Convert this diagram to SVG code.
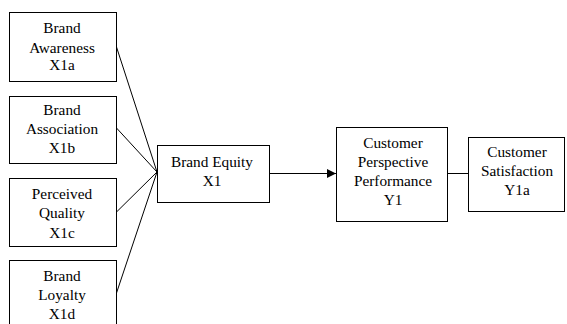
<svg xmlns="http://www.w3.org/2000/svg" width="567" height="324" viewBox="0 0 567 324">
  <style>
    .box { fill: #fff; stroke: #000; stroke-width: 1; }
    .lbl { font-family: "Liberation Serif", "Times New Roman", serif; font-size: 15.3px; fill: #000; text-anchor: middle; }
    .edge { stroke: #000; stroke-width: 1; fill: none; }
  </style>
  <defs>
    <marker id="arrow" viewBox="0 0 10 10" refX="10" refY="5" markerWidth="9" markerHeight="9" markerUnits="userSpaceOnUse" orient="auto">
      <path d="M0,0 L10,5 L0,10 z" fill="#000"/>
    </marker>
  </defs>
  <rect width="567" height="324" fill="#fff"/>

  <g id="connectors">
    <line class="edge" x1="116.5" y1="47" x2="157" y2="172"/>
    <line class="edge" x1="116.5" y1="128" x2="157" y2="172"/>
    <line class="edge" x1="116.5" y1="212" x2="157" y2="172"/>
    <line class="edge" x1="116.5" y1="293" x2="157" y2="172"/>
    <line class="edge" x1="269.5" y1="173.5" x2="336" y2="173.5" marker-end="url(#arrow)"/>
    <line class="edge" x1="447.5" y1="173.5" x2="468" y2="173.5"/>
  </g>

  <g id="brand-awareness">
    <rect class="box" x="9.5" y="12.5" width="107" height="69"/>
    <text class="lbl" x="62" y="32.5">Brand</text>
    <text class="lbl" x="62" y="52.5">Awareness</text>
    <text class="lbl" x="62" y="70">X1a</text>
  </g>

  <g id="brand-association">
    <rect class="box" x="9.5" y="96.5" width="107" height="67"/>
    <text class="lbl" x="62" y="115">Brand</text>
    <text class="lbl" x="62" y="133.5">Association</text>
    <text class="lbl" x="62" y="153">X1b</text>
  </g>

  <g id="perceived-quality">
    <rect class="box" x="9.5" y="178.5" width="107" height="68"/>
    <text class="lbl" x="62" y="198.5">Perceived</text>
    <text class="lbl" x="62" y="218">Quality</text>
    <text class="lbl" x="62" y="237.5">X1c</text>
  </g>

  <g id="brand-loyalty">
    <rect class="box" x="9.5" y="260.5" width="107" height="70"/>
    <text class="lbl" x="62" y="281">Brand</text>
    <text class="lbl" x="62" y="300">Loyalty</text>
    <text class="lbl" x="62" y="318.5">X1d</text>
  </g>

  <g id="brand-equity">
    <rect class="box" x="157.5" y="145.5" width="112" height="57"/>
    <text class="lbl" x="212" y="167">Brand Equity</text>
    <text class="lbl" x="212" y="186">X1</text>
  </g>

  <g id="customer-perspective-performance">
    <rect class="box" x="336.5" y="127.5" width="111" height="94"/>
    <text class="lbl" x="393" y="148">Customer</text>
    <text class="lbl" x="393" y="167">Perspective</text>
    <text class="lbl" x="393" y="186">Performance</text>
    <text class="lbl" x="393" y="204.5">Y1</text>
  </g>

  <g id="customer-satisfaction">
    <rect class="box" x="468.5" y="137.5" width="96" height="74"/>
    <text class="lbl" x="517" y="157">Customer</text>
    <text class="lbl" x="517" y="176">Satisfaction</text>
    <text class="lbl" x="517" y="195">Y1a</text>
  </g>
</svg>
